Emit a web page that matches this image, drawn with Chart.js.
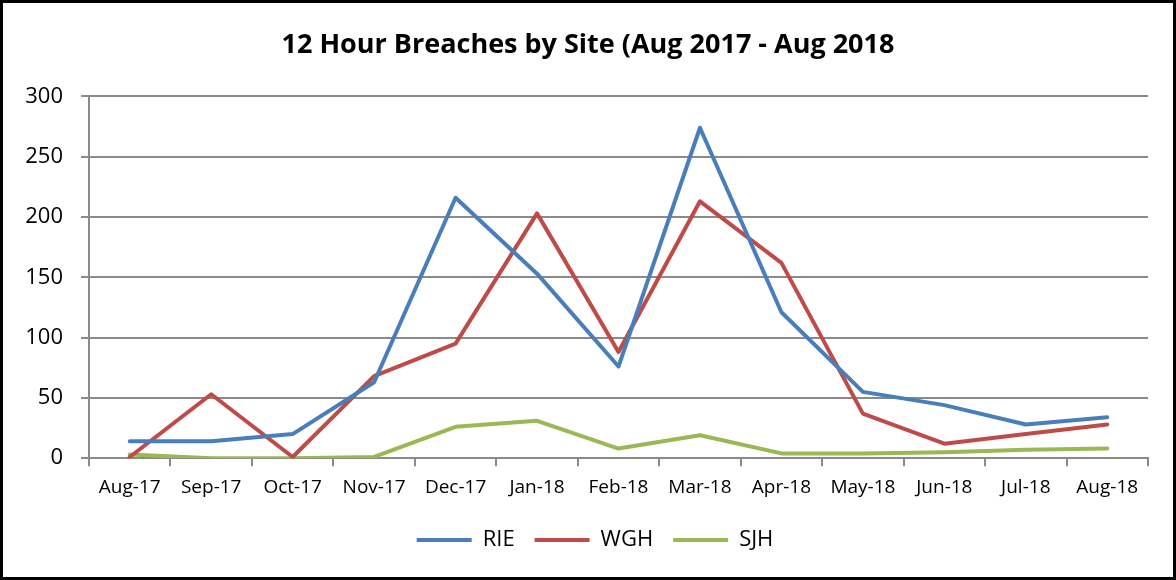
<!DOCTYPE html>
<html>
<head>
<meta charset="utf-8">
<script src="https://cdn.jsdelivr.net/npm/chart.js@4"></script>
<style>
  html, body { margin: 0; padding: 0; background: #fff; }
  #box {
    width: 1176px; height: 580px; box-sizing: border-box;
    border: 3px solid #000; position: relative;
  }
  #chart { display: block; }
</style>
</head>
<body>
<div id="box">
  <canvas id="chart" width="1170" height="574"></canvas>
</div>
<script>
var months = ['Aug-17', 'Sep-17', 'Oct-17', 'Nov-17', 'Dec-17', 'Jan-18', 'Feb-18',
              'Mar-18', 'Apr-18', 'May-18', 'Jun-18', 'Jul-18', 'Aug-18'];
var rie = [14, 14, 20, 63, 216, 153, 76, 274, 121, 55, 44, 28, 34];
var wgh = [1, 53, 1, 68, 95, 203, 88, 213, 162, 37, 12, 20, 28];
var sjh = [3, 0, 0, 1, 26, 31, 8, 19, 4, 4, 5, 7, 8];

var FONT = "'Open Sans', 'DejaVu Sans', sans-serif";
var GRID = '#8a8a8a';

function line(label, data, color) {
  return {
    label: label,
    data: data,
    borderColor: color,
    backgroundColor: color,
    borderWidth: 4,
    pointRadius: 0,
    tension: 0,
    borderCapStyle: 'round',
    borderJoinStyle: 'round'
  };
}

// title and legend are centred on the whole box, not on the padded area
var recentre = {
  id: 'recentre',
  afterLayout: function (c) {
    if (c.titleBlock) { c.titleBlock.left = 0; c.titleBlock.right = c.width; }
    if (c.legend) { c.legend.left = 0; c.legend.right = c.width + 14; }
  }
};

var ctx = document.getElementById('chart');
var chart = new Chart(ctx, {
  type: 'line',
  data: {
    labels: months,
    datasets: [
      line('RIE', rie, '#4a7ebb'),
      line('WGH', wgh, '#be4b48'),
      line('SJH', sjh, '#98b954')
    ]
  },
  plugins: [recentre],
  options: {
    responsive: false,
    animation: false,
    layout: { padding: { left: 0, right: 25, top: 0, bottom: 16 } },
    plugins: {
      title: {
        display: true,
        text: '12 Hour Breaches by Site (Aug 2017 - Aug 2018',
        color: '#000',
        font: { family: FONT, size: 27, weight: 'bold' },
        padding: { top: 26, bottom: 35 }
      },
      legend: {
        position: 'bottom',
        labels: {
          color: '#000',
          font: { family: FONT, size: 22 },
          boxWidth: 55,
          boxHeight: 4,
          padding: 20,
          generateLabels: function (c) {
            var items = Chart.defaults.plugins.legend.labels.generateLabels(c);
            items.forEach(function (it) { it.lineWidth = 0; });
            return items;
          }
        }
      },
      tooltip: { enabled: false }
    },
    scales: {
      x: {
        offset: true,
        grid: {
          offset: true,
          drawOnChartArea: false,
          drawTicks: true,
          tickLength: 8,
          color: GRID,
          lineWidth: 2
        },
        border: { display: true, color: GRID, width: 2 },
        ticks: {
          color: '#000',
          font: { family: FONT, size: 19 },
          padding: 10,
          maxRotation: 0,
          autoSkip: false
        }
      },
      y: {
        min: 0,
        max: 300,
        afterFit: function (s) { s.width = 86; },
        grid: {
          color: GRID,
          lineWidth: 2,
          drawTicks: true,
          tickLength: 8
        },
        border: { display: true, color: GRID, width: 2 },
        ticks: {
          stepSize: 50,
          color: '#000',
          font: { family: FONT, size: 22 },
          padding: 18
        }
      }
    }
  }
});
</script>
</body>
</html>
